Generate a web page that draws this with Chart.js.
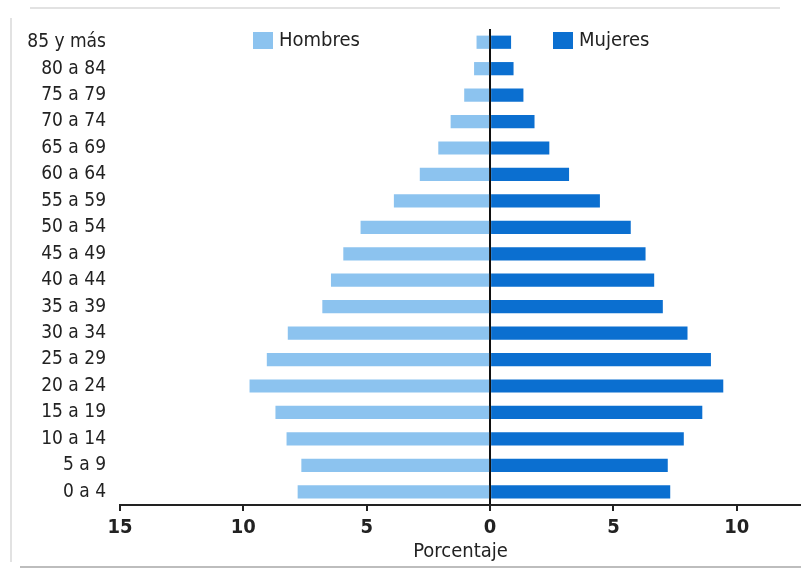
<!DOCTYPE html>
<html>
<head>
<meta charset="utf-8">
<script src="https://cdn.jsdelivr.net/npm/chart.js@4/dist/chart.umd.min.js"></script>
<style>
  html, body { margin: 0; padding: 0; background: #fff; }
  #wrap { position: relative; width: 801px; height: 570px; }
</style>
</head>
<body>
<div id="wrap"><canvas id="c" width="801" height="570"></canvas></div>
<script>
// Age groups, top to bottom
const grupos = ['85 y más', '80 a 84', '75 a 79', '70 a 74', '65 a 69', '60 a 64',
  '55 a 59', '50 a 54', '45 a 49', '40 a 44', '35 a 39', '30 a 34',
  '25 a 29', '20 a 24', '15 a 19', '10 a 14', '5 a 9', '0 a 4'];

// Share of population (%) per age group
const hombres = [0.55, 0.65, 1.05, 1.6, 2.1, 2.85, 3.9, 5.25, 5.95, 6.45, 6.8, 8.2,
  9.05, 9.75, 8.7, 8.25, 7.65, 7.8];
const mujeres = [0.85, 0.95, 1.35, 1.8, 2.4, 3.2, 4.45, 5.7, 6.3, 6.65, 7.0, 8.0,
  8.95, 9.45, 8.6, 7.85, 7.2, 7.3];

const ejeTicks = [-15, -10, -5, 0, 5, 10];

const colorHombres = '#8cc3ef';
const colorMujeres = '#0b6fd0';
const fontFam = "'Liberation Sans Narrow', 'DejaVu Sans Condensed', 'Arial Narrow', sans-serif";

// Legend drawn as two separate entries on the upper area
const leyenda = {
  id: 'leyenda',
  afterDraw(chart) {
    const ctx = chart.ctx;
    const items = [
      { text: 'Hombres', color: colorHombres, x: 253 },
      { text: 'Mujeres', color: colorMujeres, x: 553 }
    ];
    ctx.save();
    ctx.font = '20px ' + fontFam;
    ctx.textBaseline = 'middle';
    ctx.textAlign = 'left';
    items.forEach(it => {
      ctx.fillStyle = it.color;
      ctx.fillRect(it.x, 32, 20, 17);
      ctx.fillStyle = '#222';
      ctx.fillText(it.text, it.x + 26, 41);
    });
    ctx.restore();
  }
};

// Thin page frame lines
const marco = {
  id: 'marco',
  beforeDraw(chart) {
    const ctx = chart.ctx;
    ctx.save();
    ctx.strokeStyle = '#e2e2e2';
    ctx.lineWidth = 2;
    ctx.beginPath();
    ctx.moveTo(30, 8); ctx.lineTo(780, 8);
    ctx.moveTo(11, 18); ctx.lineTo(11, 562);
    ctx.stroke();
    ctx.strokeStyle = '#bdbdbd';
    ctx.beginPath();
    ctx.moveTo(20, 567); ctx.lineTo(801, 567);
    ctx.stroke();
    ctx.restore();
  }
};

new Chart(document.getElementById('c'), {
  type: 'bar',
  data: {
    labels: grupos,
    datasets: [
      { label: 'Hombres', data: hombres.map(v => -v), backgroundColor: colorHombres,
        barPercentage: 0.5, categoryPercentage: 1 },
      { label: 'Mujeres', data: mujeres, backgroundColor: colorMujeres,
        barPercentage: 0.5, categoryPercentage: 1 }
    ]
  },
  options: {
    indexAxis: 'y',
    responsive: false,
    animation: false,
    layout: { padding: { top: 29, right: 0, bottom: 0, left: 0 } },
    plugins: {
      legend: { display: false },
      tooltip: { enabled: false }
    },
    scales: {
      x: {
        stacked: true,
        min: -15,
        max: 12.6,
        z: 1,
        afterBuildTicks(scale) {
          scale.ticks = ejeTicks.map(v => ({ value: v }));
        },
        afterFit(scale) { scale.height = 65; },
        border: { display: true, color: '#222', width: 2 },
        grid: {
          drawOnChartArea: true,
          color: ctx => (ctx.tick && ctx.tick.value === 0 ? '#111' : 'rgba(0,0,0,0)'),
          lineWidth: 2,
          tickColor: '#222',
          tickWidth: 2,
          tickLength: 6
        },
        ticks: {
          color: '#222',
          padding: 5,
          font: { family: fontFam, size: 20, weight: '600' },
          callback: v => String(Math.abs(v))
        },
        title: {
          display: true,
          text: 'Porcentaje',
          color: '#222',
          font: { family: fontFam, size: 20 },
          padding: { top: 0, bottom: 6 }
        }
      },
      y: {
        stacked: true,
        afterFit(scale) { scale.width = 120; },
        border: { display: false },
        grid: { display: false },
        ticks: {
          color: '#222',
          padding: 6,
          autoSkip: false,
          font: { family: fontFam, size: 19 }
        }
      }
    }
  },
  plugins: [marco, leyenda]
});
</script>
</body>
</html>
